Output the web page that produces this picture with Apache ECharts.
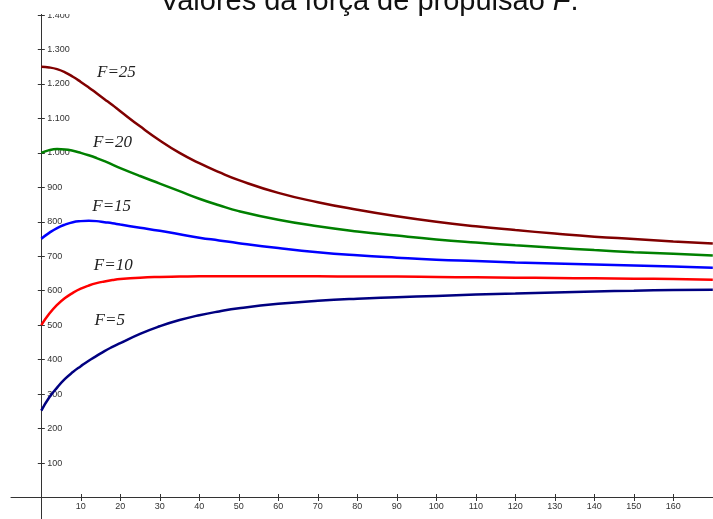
<!DOCTYPE html>
<html>
<head>
<meta charset="utf-8">
<script src="https://cdn.jsdelivr.net/npm/echarts@6/dist/echarts.min.js"></script>
<style>
  html, body { margin: 0; padding: 0; background: #fff; }
  #chart { width: 713px; height: 519px; }
</style>
</head>
<body>
<div id="chart"></div>
<script>
// tempo t (eixo x)
var xs = [0, 2, 4, 6, 8, 10, 12, 14, 16, 18, 20, 25, 30, 35, 40, 45, 50, 60, 70, 80, 90, 100, 110, 120, 130, 140, 150, 160, 170];

var f25 = [1250, 1248, 1243, 1234, 1221, 1206, 1190, 1173, 1156, 1139, 1121, 1077, 1036, 1000, 970, 944, 921, 884, 857, 835, 816, 800, 787, 776, 766, 757, 750, 743, 737];
var f20 = [1000, 1008, 1011, 1010, 1006, 1000, 993, 985, 976, 966, 956, 933, 911, 889, 867, 848, 831, 806, 787, 772, 760, 749, 740, 732, 725, 718, 712, 707, 702];
var f15 = [751, 768, 782, 792, 799, 802, 803, 802, 799, 796, 792, 783, 774, 764, 754, 746, 738, 724, 712, 703, 696, 690, 686, 682, 679, 676, 673, 670, 667];
var f10 = [500, 533, 559, 579, 594, 606, 615, 622, 627, 631, 634, 638, 640, 641, 642, 642, 642, 642, 642, 641, 641, 640, 639, 638, 637, 636, 635, 634, 632];
var f5 = [252, 290, 319, 344, 364, 381, 397, 411, 425, 437, 448, 475, 497, 515, 529, 540, 549, 562, 571, 577, 581, 585, 589, 592, 595, 598, 600, 602, 603];

var seriesNames = ["F=25", "F=20", "F=15", "F=10", "F=5"];
var seriesColors = ["#800000", "#008000", "#0000ff", "#ff0000", "#000080"];
// posição dos rótulos em coordenadas dos dados
var labelX = [14.1, 13.1, 12.9, 13.3, 13.5];
var labelY = [1233, 1030, 844, 673, 514];

var xTicks = [10, 20, 30, 40, 50, 60, 70, 80, 90, 100, 110, 120, 130, 140, 150, 160];
var yTicks = [100, 200, 300, 400, 500, 600, 700, 800, 900, 1000, 1100, 1200, 1300, 1400];

var chart = echarts.init(document.getElementById("chart"));

function pairs(vals) {
  return xs.map(function (x, i) { return [x, vals[i]]; });
}

function fmt(v) {
  return String(v).replace(/\B(?=(\d{3})+(?!\d))/g, ".");
}

var allData = [f25, f20, f15, f10, f5];
var series = allData.map(function (vals, i) {
  return {
    name: seriesNames[i],
    type: "line",
    data: pairs(vals),
    smooth: 0.5,
    showSymbol: false,
    symbol: "none",
    lineStyle: { color: seriesColors[i], width: 2.5 },
    markPoint: {
      symbol: "circle",
      symbolSize: 0,
      data: [{ coord: [labelX[i], labelY[i]] }],
      label: {
        show: true,
        position: "right",
        distance: 0,
        formatter: seriesNames[i],
        fontFamily: "Liberation Serif",
        fontStyle: "italic",
        fontSize: 17,
        color: "#222"
      }
    }
  };
});

var tickStyle = { color: "#333", width: 1 };
var xMin = -7.67, xMax = 170.05;
var yMin = -62.4, yMax = 1443.7;

var option = {
  animation: false,
  backgroundColor: "#fff",
  title: {
    text: "Valores da força de propulsão {i|F}.",
    left: 160,
    top: -12.5,
    padding: 0,
    z: 20,
    textStyle: {
      fontFamily: "Liberation Sans",
      fontSize: 29,
      lineHeight: 29,
      fontWeight: "normal",
      color: "#111",
      rich: {
        i: { fontFamily: "Liberation Sans", fontSize: 29, lineHeight: 29, fontStyle: "italic", color: "#111" }
      }
    }
  },
  graphic: [{
    type: "rect",
    shape: { x: 0, y: 0, width: 713, height: 14 },
    style: { fill: "#fff" },
    z: 10
  }],
  grid: { left: 11, right: 0, top: 0, bottom: 0, containLabel: false, outerBoundsMode: "none" },
  xAxis: [
    {
      type: "value",
      position: "bottom",
      offset: -21.5,
      min: xMin, max: xMax,
      splitLine: { show: false },
      axisLine: { show: true, onZero: false, lineStyle: tickStyle },
      axisTick: { show: true, inside: false, length: 3.5, customValues: xTicks, lineStyle: tickStyle },
      axisLabel: { customValues: xTicks, margin: 5, fontSize: 9, fontFamily: "Liberation Sans", color: "#333" }
    },
    {
      type: "value",
      position: "bottom",
      offset: -21.5,
      min: xMin, max: xMax,
      splitLine: { show: false },
      axisLine: { show: false, onZero: false },
      axisTick: { show: true, inside: true, length: 3.5, customValues: xTicks, lineStyle: tickStyle },
      axisLabel: { show: false }
    }
  ],
  yAxis: [
    {
      type: "value",
      position: "left",
      offset: -30.3,
      min: yMin, max: yMax,
      splitLine: { show: false },
      axisLine: { show: true, onZero: false, lineStyle: tickStyle },
      axisTick: { show: true, inside: false, length: 3.5, customValues: yTicks, lineStyle: tickStyle },
      axisLabel: {
        inside: true, margin: 6, customValues: yTicks,
        fontSize: 9, fontFamily: "Liberation Sans", color: "#333",
        formatter: fmt
      }
    },
    {
      type: "value",
      position: "left",
      offset: -30.3,
      min: yMin, max: yMax,
      splitLine: { show: false },
      axisLine: { show: false, onZero: false },
      axisTick: { show: true, inside: true, length: 3.5, customValues: yTicks, lineStyle: tickStyle },
      axisLabel: { show: false }
    }
  ],
  series: series
};

chart.setOption(option);
</script>
</body>
</html>
